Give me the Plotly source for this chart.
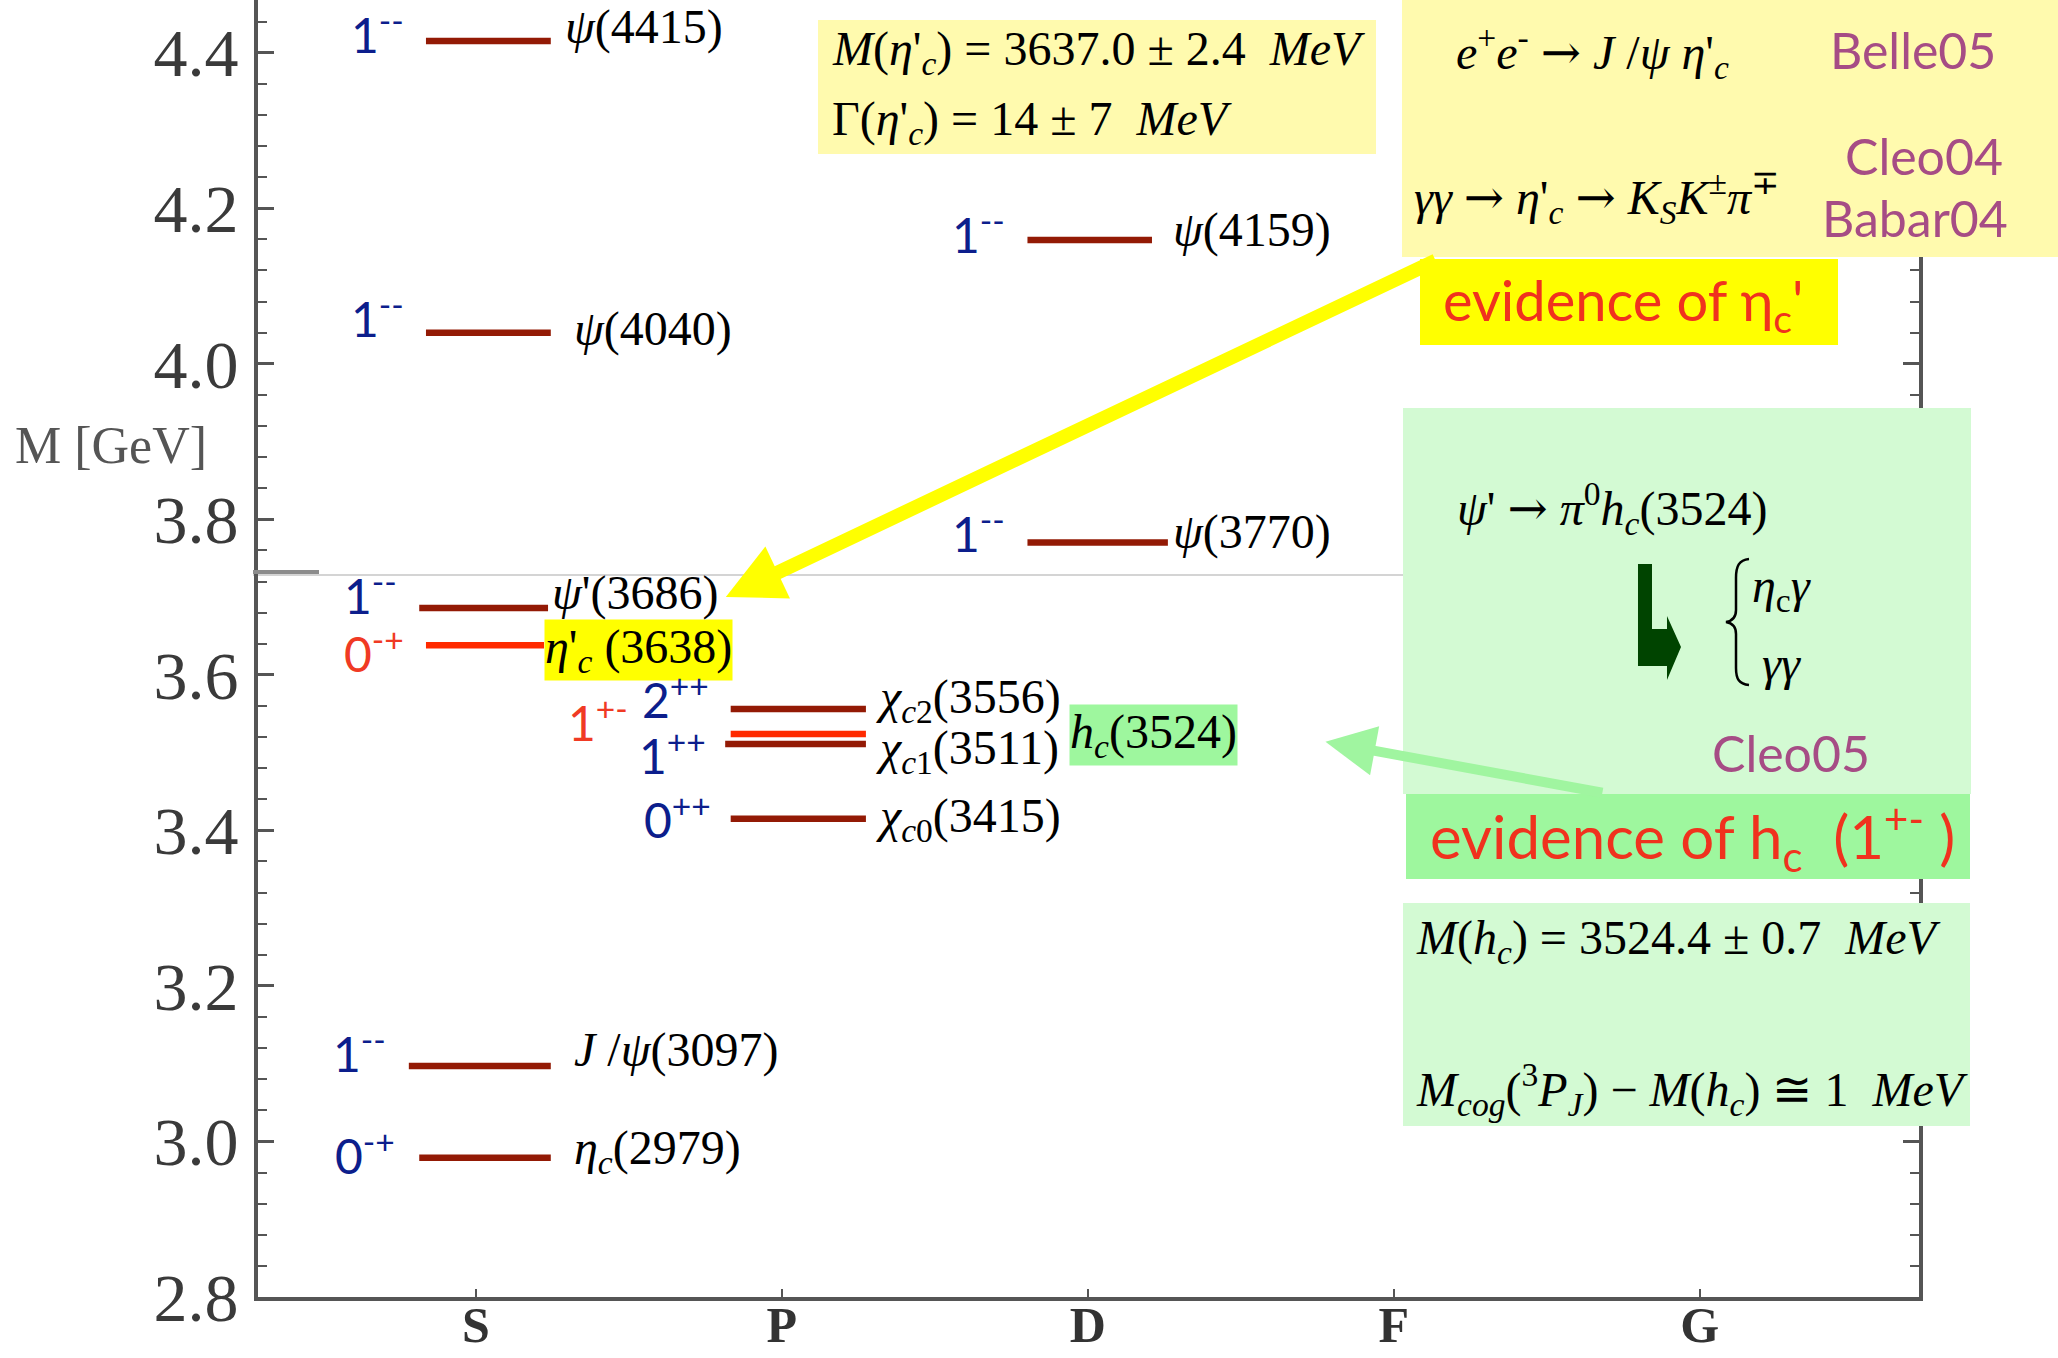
import plotly.graph_objects as go

# ---------------------------------------------------------------------------
# Charmonium spectrum: columns are orbital waves, levels are measured masses
# ---------------------------------------------------------------------------
waves = ["S", "P", "D", "F", "G"]

state_label = [
    "<i>η<sub>c</sub></i>(2979)",
    "<i>J</i> /<i>ψ</i>(3097)",
    "<i>η</i>'<sub><i>c</i></sub> (3638)",
    "<i>ψ</i>'(3686)",
    "<i>ψ</i>(4040)",
    "<i>ψ</i>(4415)",
    "<i>χ</i><sub><i>c</i>0</sub>(3415)",
    "<i>χ</i><sub><i>c</i>1</sub>(3511)",
    "<i>h<sub>c</sub></i>(3524)",
    "<i>χ</i><sub><i>c</i>2</sub>(3556)",
    "<i>ψ</i>(3770)",
    "<i>ψ</i>(4159)",
]
state_mass = [2.979, 3.097, 3.638, 3.686, 4.040, 4.415,
              3.415, 3.511, 3.524, 3.556, 3.770, 4.159]          # GeV
state_wave = ["S", "S", "S", "S", "S", "S", "P", "P", "P", "P", "D", "D"]
state_jpc = ["0-+", "1--", "0-+", "1--", "1--", "1--",
             "0++", "1++", "1+-", "2++", "1--", "1--"]
state_new = [False, False, True, False, False, False,
             False, False, True, False, False, False]

y_ticks = [2.8, 3.0, 3.2, 3.4, 3.6, 3.8, 4.0, 4.2, 4.4]

# ---------------------------------------------------------------------------
# Layout / style constants
# ---------------------------------------------------------------------------
W, H = 2058, 1358
PL, PR, PT, PB = 258, 1919, 0, 1297          # plot area in figure pixels
X_RANGE = [0.288, 5.717]
Y_RANGE = [2.8, 4.4677]

OLD_LINE = "#931A05"
NEW_LINE = "#FF2A00"
JPC_OLD = "#0C1E8C"
JPC_NEW = "#F03A24"
PURPLE = "#A64C85"
TXT_RED = "#F0321E"
PALE_YELLOW = "#FFFAAE"
YELLOW = "#FFFF00"
PALE_GREEN = "#D3FAD3"
GREEN = "#9EF79E"
SERIF = "Liberation Serif, Times New Roman, serif"
ROUND = "Lato, sans-serif"
AXIS_GREY = "#555555"
ARROW_FONT = "DejaVu Serif"

# per level: line span around the column centre (axis units),
# name label shift (px right, px up), J^PC label shift (px gap to the left, px up)
LEVEL_STYLE = [
    dict(span=(-0.185, 0.245), name=(22, 7), jpc=(22, 5)),
    dict(span=(-0.219, 0.245), name=(22, 16), jpc=(21, 16)),
    dict(span=(-0.163, 0.223), name=(0, -5), jpc=(20, -5), box=YELLOW),
    dict(span=(-0.185, 0.236), name=(3, 15), jpc=(20, 15)),
    dict(span=(-0.163, 0.245), name=(22, 4), jpc=(20, 17)),
    dict(span=(-0.163, 0.245), name=(13, 14), jpc=(20, 9)),
    dict(span=(-0.167, 0.275), name=(9, 0), jpc=(18, 2)),
    dict(span=(-0.185, 0.275), name=(9, -7), jpc=(17, -8)),
    dict(span=(-0.167, 0.275), name=(203, -1), jpc=(101, 14), box=GREEN),
    dict(span=(-0.167, 0.275), name=(9, 9), jpc=(20, 13)),
    dict(span=(-0.197, 0.262), name=(4, 11), jpc=(20, 12)),
    dict(span=(-0.197, 0.210), name=(20, 10), jpc=(20, 9)),
]


def paper(x, y):
    """Figure pixel position -> paper coordinates."""
    return (x - PL) / (PR - PL), (PB - y) / (PB - PT)


def arrow(sym="→"):
    return f'<span style="font-family:{ARROW_FONT}">{sym}</span>'


fig = go.Figure()

# ---- energy levels ---------------------------------------------------------
annotations = []
for lab, m, wv, jpc, new, st in zip(state_label, state_mass, state_wave,
                                    state_jpc, state_new, LEVEL_STYLE):
    centre = waves.index(wv) + 1
    x0, x1 = centre + st["span"][0], centre + st["span"][1]
    fig.add_trace(go.Scatter(
        x=[x0, x1], y=[m, m], mode="lines",
        line=dict(color=NEW_LINE if new else OLD_LINE, width=6.5),
        hoverinfo="skip", showlegend=False))
    annotations.append(dict(
        x=x1, y=m, xref="x", yref="y", xanchor="left", yanchor="middle",
        xshift=st["name"][0], yshift=st["name"][1], showarrow=False,
        text=lab, font=dict(family=SERIF, size=48, color="black"),
        bgcolor=st.get("box", "rgba(0,0,0,0)"), borderpad=0))
    annotations.append(dict(
        x=x0, y=m, xref="x", yref="y", xanchor="right", yanchor="middle",
        xshift=-st["jpc"][0], yshift=st["jpc"][1], showarrow=False,
        text=f"{jpc[0]}<sup>{jpc[1:]}</sup>",
        font=dict(family=ROUND, size=48, color=JPC_NEW if new else JPC_OLD)))

# ---- arrows pointing to the new states --------------------------------------
arrows = [
    dict(x=1.817, y=3.700, ax=4.142, ay=4.1335, arrowwidth=14, arrowsize=0.82,
         arrowcolor=YELLOW),
    dict(x=3.777, y=3.514, ax=4.687, ay=3.448, arrowwidth=10, arrowsize=1.0,
         arrowcolor="#A0F5A0"),
]
arrow_annots = [dict(xref="x", yref="y", axref="x", ayref="y", text="",
                     showarrow=True, arrowhead=2, **a) for a in arrows]

# ---- panels ----------------------------------------------------------------
shapes = []
panels = [
    (818, 20, 1376, 154, PALE_YELLOW),
    (1402, 0, 2058, 257, PALE_YELLOW),
    (1420, 259, 1838, 345, YELLOW),
    (1403, 408, 1971, 794, PALE_GREEN),
    (1406, 794, 1970, 879, GREEN),
    (1403, 903, 1970, 1126, PALE_GREEN),
]
for x0, y0, x1, y1, col in panels:
    p0, q0 = paper(x0, y1)
    p1, q1 = paper(x1, y0)
    shapes.append(dict(type="rect", xref="paper", yref="paper",
                       x0=p0, y0=q0, x1=p1, y1=q1,
                       fillcolor=col, line=dict(width=0), layer="above"))

# faint seam line across the diagram
sx0, sy = paper(253, 575)
sx1, _ = paper(1404, 575)
shapes.append(dict(type="line", xref="paper", yref="paper", x0=sx0, x1=sx1,
                   y0=sy, y1=sy, line=dict(color="#D4D4D4", width=2),
                   layer="below"))
gx0, gy = paper(253, 572)
gx1, _ = paper(319, 572)
shapes.append(dict(type="line", xref="paper", yref="paper", x0=gx0, x1=gx1,
                   y0=gy, y1=gy, line=dict(color="#8C8C8C", width=4),
                   layer="above"))


def path(points, closed=False):
    out = []
    for p in points:
        if isinstance(p, str):
            out.append(p)
        else:
            px_, py_ = paper(*p)
            out.append(f"{px_:.5f},{py_:.5f}")
    s = " ".join(out)
    return s + (" Z" if closed else "")


# dark green bent arrow (decay chain)
bent = ["M", (1638, 564), "L", (1652, 564), "L", (1652, 629), "L", (1667, 629),
        "L", (1667, 616), "L", (1681, 647), "L", (1667, 680), "L", (1667, 666),
        "L", (1638, 666)]
shapes.append(dict(type="path", xref="paper", yref="paper",
                   path=path(bent, closed=True), fillcolor="#004400",
                   line=dict(width=0), layer="above"))

# curly brace grouping the two decay modes
brace = ["M", (1749, 559), "C", (1739, 560), (1736, 566), (1736, 578),
         "L", (1736, 610), "C", (1736, 618), (1732, 621), (1726, 622),
         "C", (1732, 623), (1736, 626), (1736, 634),
         "L", (1736, 668), "C", (1736, 679), (1739, 684), (1749, 685)]
shapes.append(dict(type="path", xref="paper", yref="paper",
                   path=path(brace), line=dict(color="black", width=2.5),
                   layer="above"))

# ---- panel texts ------------------------------------------------------------
NB = "\u00a0"
panel_text = [
    (830, 52, f"<i>M</i>(<i>η</i>'<sub><i>c</i></sub>) = 3637.0 ± 2.4{NB}{NB}<i>MeV</i>",
     SERIF, 48, "black"),
    (830, 122, f"Γ(<i>η</i>'<sub><i>c</i></sub>) = 14 ± 7{NB}{NB}<i>MeV</i>",
     SERIF, 48, "black"),
    (1454, 53, f"<i>e</i><sup>+</sup><i>e</i><sup>-</sup> {arrow()} <i>J</i> /<i>ψ</i> <i>η</i>'<sub><i>c</i></sub>",
     SERIF, 48, "black"),
    (1828, 50, "Belle05", ROUND, 50, PURPLE),
    (1412, 197, f"<i>γγ</i> {arrow()} <i>η</i>'<sub><i>c</i></sub> {arrow()} <i>K<sub>S</sub>K</i><sup>±</sup><i>π</i><sup>∓</sup>",
     SERIF, 48, "black"),
    (1843, 156, "Cleo04", ROUND, 50, PURPLE),
    (1820, 218, "Babar04", ROUND, 50, PURPLE),
    (1441, 303, "evidence of η<sub>c</sub>'", ROUND, 56, TXT_RED),
    (1455, 509, f"<i>ψ</i>' {arrow()} <i>π</i><sup>0</sup><i>h<sub>c</sub></i>(3524)",
     SERIF, 48, "black"),
    (1750, 589, "<i>η</i><sub>c</sub><i>γ</i>", SERIF, 48, "black"),
    (1760, 663, "<i>γγ</i>", SERIF, 48, "black"),
    (1710, 753, "Cleo05", ROUND, 50, PURPLE),
    (1428, 837, f"evidence of h<sub>c</sub>{NB}{NB}(1<sup>+-</sup>{NB})",
     ROUND, 60, TXT_RED),
    (1414, 941, f"<i>M</i>(<i>h<sub>c</sub></i>) = 3524.4 ± 0.7{NB}{NB}<i>MeV</i>",
     SERIF, 48, "black"),
    (1414, 1089, f"<i>M</i><sub><i>cog</i></sub>(<sup>3</sup><i>P<sub>J</sub></i>) − <i>M</i>(<i>h<sub>c</sub></i>) ≅ 1{NB}{NB}<i>MeV</i>",
     SERIF, 48, "black"),
]
text_annots = []
for x, y, txt, fam, size, col in panel_text:
    p, q = paper(x, y)
    text_annots.append(dict(x=p, y=q, xref="paper", yref="paper",
                            xanchor="left", yanchor="middle", showarrow=False,
                            text=txt, font=dict(family=fam, size=size, color=col)))

# axis title
tx, ty = paper(13, 446)
text_annots.append(dict(x=tx, y=ty, xref="paper", yref="paper", xanchor="left",
                        yanchor="middle", showarrow=False, text="M [GeV]",
                        font=dict(family=SERIF, size=52, color=AXIS_GREY)))

fig.update_layout(
    width=W, height=H, autosize=False,
    margin=dict(l=PL, r=W - PR, t=PT, b=H - PB, pad=0, autoexpand=False),
    paper_bgcolor="white", plot_bgcolor="white",
    showlegend=False,
    shapes=shapes,
    annotations=arrow_annots + annotations + text_annots,
)
fig.update_xaxes(
    range=X_RANGE, tickvals=list(range(1, len(waves) + 1)), ticktext=waves,
    showgrid=False, zeroline=False, showline=True, linecolor=AXIS_GREY,
    linewidth=4, ticks="inside", ticklen=8, tickwidth=2, tickcolor=AXIS_GREY,
    tickfont=dict(family=SERIF, size=50, color="#333333", weight="bold"),
    ticklabelstandoff=-19, automargin=False,
)
fig.update_yaxes(
    range=Y_RANGE, tickvals=y_ticks, ticktext=[f"{v:.1f}" for v in y_ticks],
    showgrid=False, zeroline=False, showline=True, linecolor=AXIS_GREY,
    linewidth=4, mirror="ticks", ticks="inside", ticklen=16, tickwidth=3,
    tickcolor=AXIS_GREY,
    minor=dict(dtick=0.04, ticks="inside", ticklen=9, tickwidth=2,
               tickcolor=AXIS_GREY),
    tickfont=dict(family=SERIF, size=68, color="#3a3a3a"),
    ticklabelstandoff=2, automargin=False,
)

fig.write_html("out.html")
